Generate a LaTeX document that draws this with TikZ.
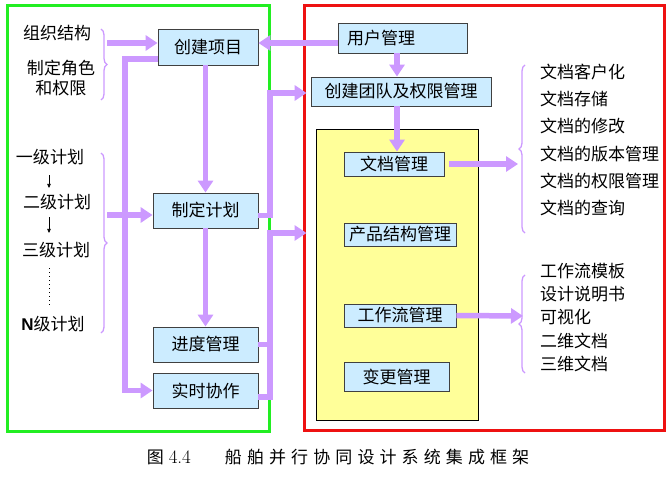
\documentclass[tikz,border=0pt]{standalone}
\usepackage{fontspec}
\newfontfamily\cjk{Noto Sans CJK SC}
\newfontfamily\cjkwide[LetterSpace=30]{Noto Sans CJK SC}
\newfontfamily\arialfont{Liberation Sans}
\usetikzlibrary{arrows.meta, positioning, calc, decorations.pathreplacing}
\definecolor{lilac}{HTML}{CC99FF}
\definecolor{boxblue}{HTML}{CCECFF}
\definecolor{padyellow}{HTML}{FFFF99}
\definecolor{frgreen}{HTML}{22EE22}
\definecolor{frred}{HTML}{EE1111}
\definecolor{boxline}{HTML}{404040}

\begin{document}
\begin{tikzpicture}[x=1pt, y=-1pt, >={Triangle[length=12pt, width=15pt]},
  mod/.style={draw=boxline, line width=0.8pt, fill=boxblue, inner sep=0pt, font=\cjk\fontsize{17}{20}\selectfont},
  lbl/.style={inner sep=0pt, font=\cjk\fontsize{17}{20}\selectfont},
  flow/.style={lilac, line width=5.5pt, ->},
  stub/.style={lilac, line width=5.5pt},
  brc/.style={lilac, line width=1.3pt, decorate, decoration={brace, amplitude=6pt}},
  tick/.style={black, line width=0.6pt, -{Triangle[length=4pt, width=3.5pt]}}]

\useasboundingbox (0,0) rectangle (671,497);

% Frames
\draw[frgreen, line width=3pt] (7,6) rectangle (269,431);
\node[draw=frred, line width=3pt, minimum width=360pt, minimum height=424pt] (rf) at (484,218) {};
\draw[black, line width=0.6pt, fill=padyellow] (316,129) rectangle (478,420);

% Left modules
\node[mod, minimum width=100pt, minimum height=36pt] (xm) at (208,47) {创建项目};
\node[mod, minimum width=105pt, minimum height=35pt] (zd) at (205.5,210.5) {制定计划};
\node[mod, minimum width=105pt, minimum height=35pt] (jd) at (205.5,344.5) {进度管理};
\node[mod, minimum width=105pt, minimum height=35pt] (ss) at (205.5,390.5) {实时协作};

% Right modules
\node[mod, minimum height=30pt, text width=111pt, inner xsep=9pt, align=left] (yh) at (402.5,38) {用户管理};
\node[mod, minimum width=180pt, minimum height=29pt] (cj) at (401,91.5) {创建团队及权限管理};
\node[mod, minimum width=100pt, minimum height=24pt] (wd) at (394,164) {文档管理};
\node[mod, minimum width=112pt, minimum height=23pt] (cp) at (400,234.5) {产品结构管理};
\node[mod, minimum width=112pt, minimum height=23pt] (gz) at (400,315.5) {工作流管理};
\node[mod, minimum width=105pt, minimum height=29pt] (bg) at (396.5,376.5) {变更管理};

% Left labels
\node[lbl] (zz) at (57,33) {组织结构};
\node[lbl, align=center] (js) at (61,78) {制定角色\\和权限};
\node[lbl] (p1) at (50,157) {一级计划};
\node[lbl] (p2) at (57,202) {二级计划};
\node[lbl] (p3) at (56,250) {三级计划};
\node[lbl] (pn) at (53,324) {{\arialfont\bfseries N}级计划};

\coordinate (ax) at (49,0);
\draw[tick] ([yshift=-10pt]p1.south -| ax) -- ([yshift=6pt]p2.north -| ax);
\draw[tick] ([yshift=-7pt]p2.south -| ax) -- ([yshift=9pt]p3.north -| ax);
\draw[black, line width=0.6pt, dash pattern=on 1pt off 3pt] ([yshift=-10pt]p3.south -| ax) -- ([yshift=10pt]pn.north -| ax);

% Braces
\draw[brc] (101,29) -- (101,100);
\draw[brc] (101,153) -- (101,333);
\draw[brc] (525,233) -- (525,65);
\draw[brc] (525,373) -- (525,275);

% Right lists
\node[lbl, anchor=west, align=left, font=\cjk\fontsize{17}{27.2}\selectfont] (wl) at (540,140)
  {文档客户化\\文档存储\\文档的修改\\文档的版本管理\\文档的权限管理\\文档的查询};
\node[lbl, anchor=west, align=left, font=\cjk\fontsize{17}{23.3}\selectfont] (gl) at (540,317.5)
  {工作流模板\\设计说明书\\可视化\\二维文档\\三维文档};

% Flows
\coordinate (b1) at (107,43);
\coordinate (b2) at (107,215);
\coordinate (lp) at (125,59);
\coordinate (rt) at (270,93);
\coordinate (rb) at (270,233);
\coordinate (vx) at (397,0);
\coordinate (r1) at (518,164);
\coordinate (r2) at (523,316);

\draw[flow] (b1) -- (b1 -| xm.west);
\draw[flow] (yh.west |- b1) -- (xm.east |- b1);
\draw[flow] (xm.south -| zd.north) -- (zd.north);
\draw[flow] (xm.west |- lp) -- (lp) |- (ss.west);
\draw[flow] (b2) -- (b2 -| zd.west);
\draw[flow] (zd.south) -- (jd.north);
\draw[flow] ([yshift=-5pt]zd.east) -| (rt) -- ($(rt -| cj.west)+(-4,0)$);
\draw[stub] (jd.east) -- (jd.east -| rb);
\draw[flow] ([yshift=-6.5pt]ss.east) -| (rb) -- ($(rb -| rf.west)+(4,0)$);
\draw[flow] (yh.south -| vx) -- (cj.north -| vx);
\draw[flow] (cj.south -| vx) -- (wd.north -| vx);
\draw[flow] ([xshift=5pt]wd.east) -- (r1);
\draw[flow] (gz.east) -- (r2);

% Caption
\node[lbl] (cap) at (338,457) {图\hspace{5pt}{\rmfamily\fontsize{19}{20}\selectfont 4.4}\hspace{34pt}{\cjkwide 船舶并行协同设计系统集成框架}};

\end{tikzpicture}
\end{document}
